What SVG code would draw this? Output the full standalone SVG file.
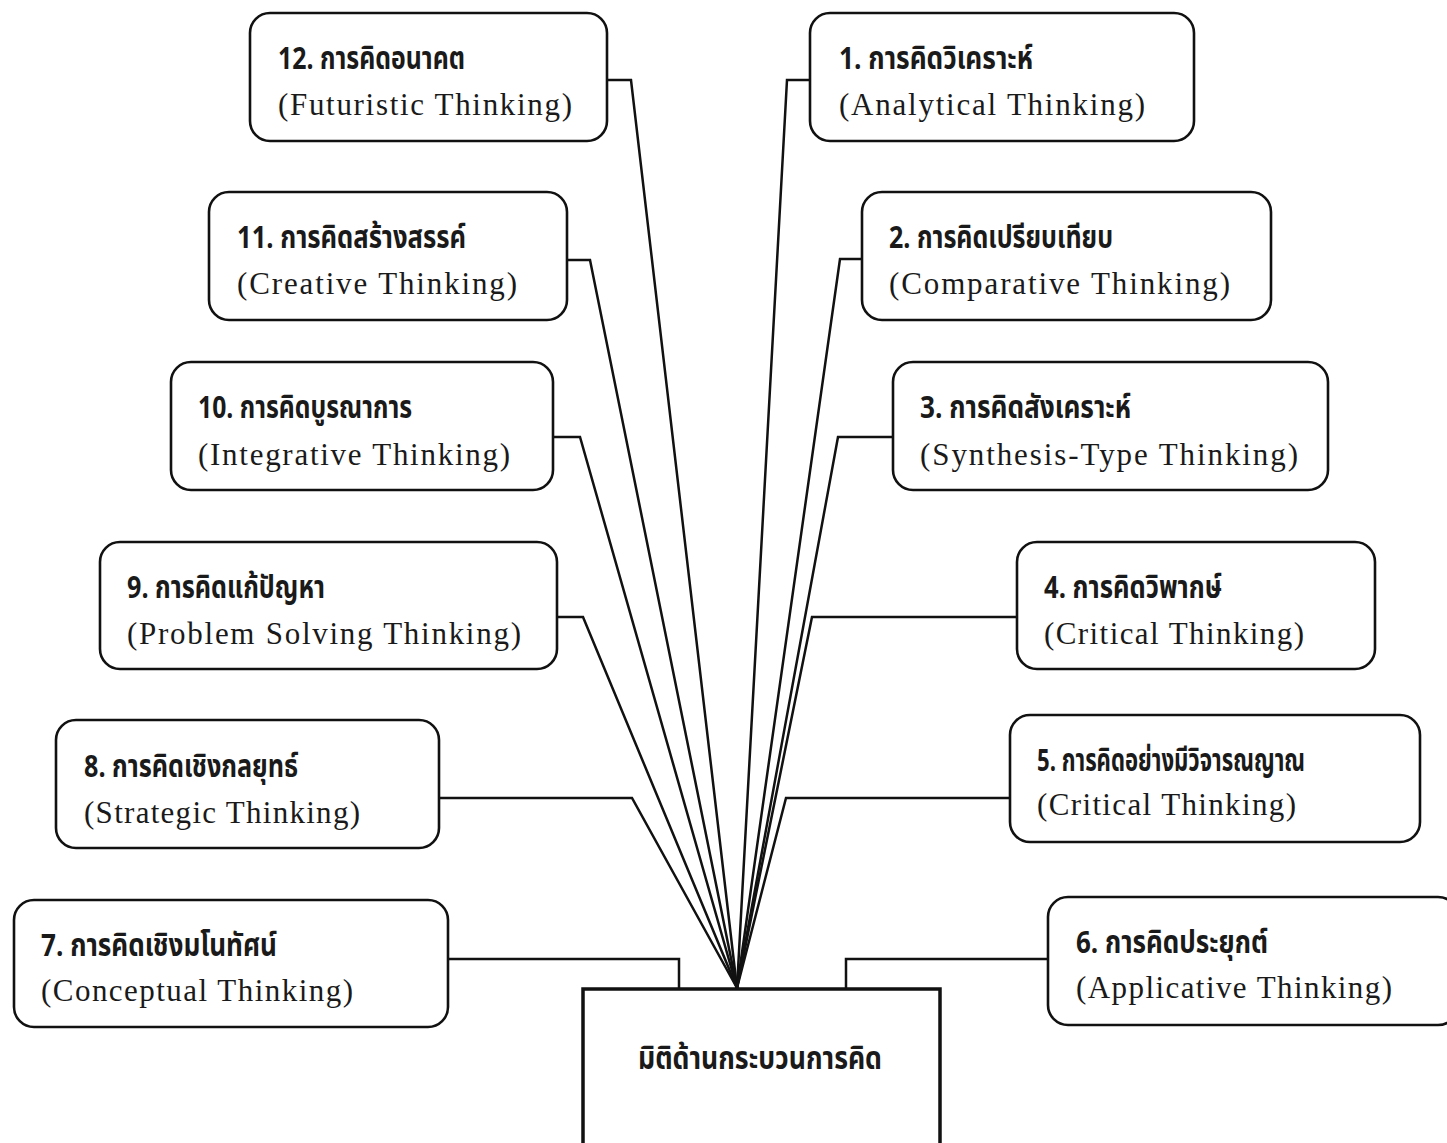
<svg xmlns="http://www.w3.org/2000/svg" width="1447" height="1143" viewBox="0 0 1447 1143">
<style>
.box{fill:#fff;stroke:#111;stroke-width:2.6}
.cbox{fill:#fff;stroke:#111;stroke-width:3.5}
.ln{fill:none;stroke:#111;stroke-width:2.5;stroke-linejoin:miter}
.th{font-family:"Noto Sans Thai","Noto Sans","DejaVu Sans",sans-serif;font-weight:bold;font-size:31px;fill:#1a1a1a}
.en{font-family:"Liberation Serif","Times New Roman",serif;font-size:31px;fill:#1a1a1a}
</style>
<rect width="1447" height="1143" fill="#fff"/>
<g id="connectors">
<polyline class="ln" points="607,80 631,80 737,988"/>
<polyline class="ln" points="567,260 590,260 737,988"/>
<polyline class="ln" points="553,437 580,437 737,988"/>
<polyline class="ln" points="557,617 583,617 737,988"/>
<polyline class="ln" points="439,798 632,798 737,988"/>
<polyline class="ln" points="448,959 679,959 679,988"/>
<polyline class="ln" points="810,80 787,80 737,988"/>
<polyline class="ln" points="862,259 840,259 737,988"/>
<polyline class="ln" points="893,437 838,437 737,988"/>
<polyline class="ln" points="1017,617 812,617 737,988"/>
<polyline class="ln" points="1010,798 786,798 737,988"/>
<polyline class="ln" points="1048,959 846,959 846,988"/>
</g>
<g id="center">
<rect class="cbox" x="583" y="989" width="357" height="160"/>
<text class="th" x="760" y="1069" text-anchor="middle" textLength="244" lengthAdjust="spacingAndGlyphs">มิติด้านกระบวนการคิด</text>
</g>
<g id="n12">
<rect class="box" x="250" y="13" width="357" height="128" rx="20"/>
<text class="th" x="278" y="69" textLength="187" lengthAdjust="spacingAndGlyphs">12. การคิดอนาคต</text>
<text class="en" x="278" y="115" textLength="294" lengthAdjust="spacing">(Futuristic Thinking)</text>
</g>
<g id="n11">
<rect class="box" x="209" y="192" width="358" height="128" rx="20"/>
<text class="th" x="237" y="248" textLength="229" lengthAdjust="spacingAndGlyphs">11. การคิดสร้างสรรค์</text>
<text class="en" x="237" y="294" textLength="280" lengthAdjust="spacing">(Creative Thinking)</text>
</g>
<g id="n10">
<rect class="box" x="171" y="362" width="382" height="128" rx="20"/>
<text class="th" x="198" y="418" textLength="214" lengthAdjust="spacingAndGlyphs">10. การคิดบูรณาการ</text>
<text class="en" x="198" y="465" textLength="312" lengthAdjust="spacing">(Integrative Thinking)</text>
</g>
<g id="n9">
<rect class="box" x="100" y="542" width="457" height="127" rx="20"/>
<text class="th" x="127" y="598" textLength="198" lengthAdjust="spacingAndGlyphs">9. การคิดแก้ปัญหา</text>
<text class="en" x="127" y="644" textLength="394" lengthAdjust="spacing">(Problem Solving Thinking)</text>
</g>
<g id="n8">
<rect class="box" x="56" y="720" width="383" height="128" rx="20"/>
<text class="th" x="84" y="777" textLength="214" lengthAdjust="spacingAndGlyphs">8. การคิดเชิงกลยุทธ์</text>
<text class="en" x="84" y="823" textLength="276" lengthAdjust="spacing">(Strategic Thinking)</text>
</g>
<g id="n7">
<rect class="box" x="14" y="900" width="434" height="127" rx="20"/>
<text class="th" x="41" y="956" textLength="236" lengthAdjust="spacingAndGlyphs">7. การคิดเชิงมโนทัศน์</text>
<text class="en" x="41" y="1001" textLength="312" lengthAdjust="spacing">(Conceptual Thinking)</text>
</g>
<g id="n1">
<rect class="box" x="810" y="13" width="384" height="128" rx="20"/>
<text class="th" x="839" y="69" textLength="194" lengthAdjust="spacingAndGlyphs">1. การคิดวิเคราะห์</text>
<text class="en" x="839" y="115" textLength="306" lengthAdjust="spacing">(Analytical Thinking)</text>
</g>
<g id="n2">
<rect class="box" x="862" y="192" width="409" height="128" rx="20"/>
<text class="th" x="889" y="248" textLength="224" lengthAdjust="spacingAndGlyphs">2. การคิดเปรียบเทียบ</text>
<text class="en" x="889" y="294" textLength="341" lengthAdjust="spacing">(Comparative Thinking)</text>
</g>
<g id="n3">
<rect class="box" x="893" y="362" width="435" height="128" rx="20"/>
<text class="th" x="920" y="418" textLength="211" lengthAdjust="spacingAndGlyphs">3. การคิดสังเคราะห์</text>
<text class="en" x="920" y="465" textLength="378" lengthAdjust="spacing">(Synthesis-Type Thinking)</text>
</g>
<g id="n4">
<rect class="box" x="1017" y="542" width="358" height="127" rx="20"/>
<text class="th" x="1044" y="598" textLength="178" lengthAdjust="spacingAndGlyphs">4. การคิดวิพากษ์</text>
<text class="en" x="1044" y="644" textLength="260" lengthAdjust="spacing">(Critical Thinking)</text>
</g>
<g id="n5">
<rect class="box" x="1010" y="715" width="410" height="127" rx="20"/>
<text class="th" x="1037" y="771" textLength="268" lengthAdjust="spacingAndGlyphs">5. การคิดอย่างมีวิจารณญาณ</text>
<text class="en" x="1037" y="815" textLength="259" lengthAdjust="spacing">(Critical Thinking)</text>
</g>
<g id="n6">
<rect class="box" x="1048" y="897" width="410" height="128" rx="20"/>
<text class="th" x="1076" y="953" textLength="192" lengthAdjust="spacingAndGlyphs">6. การคิดประยุกต์</text>
<text class="en" x="1076" y="998" textLength="316" lengthAdjust="spacing">(Applicative Thinking)</text>
</g>
</svg>
